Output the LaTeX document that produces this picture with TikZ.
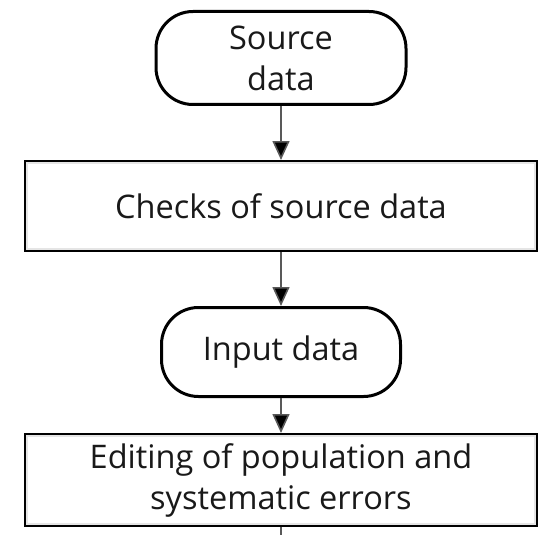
\documentclass[tikz,border=0pt]{standalone}
\usepackage{fontspec}
\setmainfont{Open Sans}
\usetikzlibrary{arrows.meta}
\tikzset{
  base/.style={draw=black, line width=3pt, fill=white, align=center, inner sep=0pt,
    font=\fontsize{32.5}{41}\selectfont, text=black!90},
  termbox/.style={base, rounded corners=37pt},
  procbox/.style={base},
  flow/.style={draw=black!65, line width=1.6pt, -{Triangle[width=17pt,length=19pt,fill=black]}},
  tailline/.style={draw=black!65, line width=1.6pt},
  inner/.style={draw=black!10, line width=2pt}
}
\begin{document}
\begin{tikzpicture}[x=1pt,y=1pt]
\useasboundingbox (0,0) rectangle (544,-535);
\node[termbox, minimum width=250pt, minimum height=93pt] (src) at (281,-58) {Source\\data};
\node[procbox, minimum width=511pt, minimum height=89pt] (chk) at (281,-206) {Checks of source data};
\node[termbox, minimum width=239pt, minimum height=89pt] (inp) at (281,-352) {Input data};
\node[procbox, minimum width=511pt, minimum height=91pt] (edt) at (281,-480) {Editing of population and\\systematic errors};
\draw[inner] ([shift={(3pt,-3pt)}]chk.north west) rectangle ([shift={(-3pt,3pt)}]chk.south east);
\draw[inner] ([shift={(3pt,-3pt)}]edt.north west) rectangle ([shift={(-3pt,3pt)}]edt.south east);
\coordinate (tail) at (281,-540);
\draw[flow] (src.south) -- (chk.north);
\draw[flow] (chk.south) -- (inp.north);
\draw[flow] (inp.south) -- (edt.north);
\draw[tailline] (edt.south) -- (tail);
\end{tikzpicture}
\end{document}
